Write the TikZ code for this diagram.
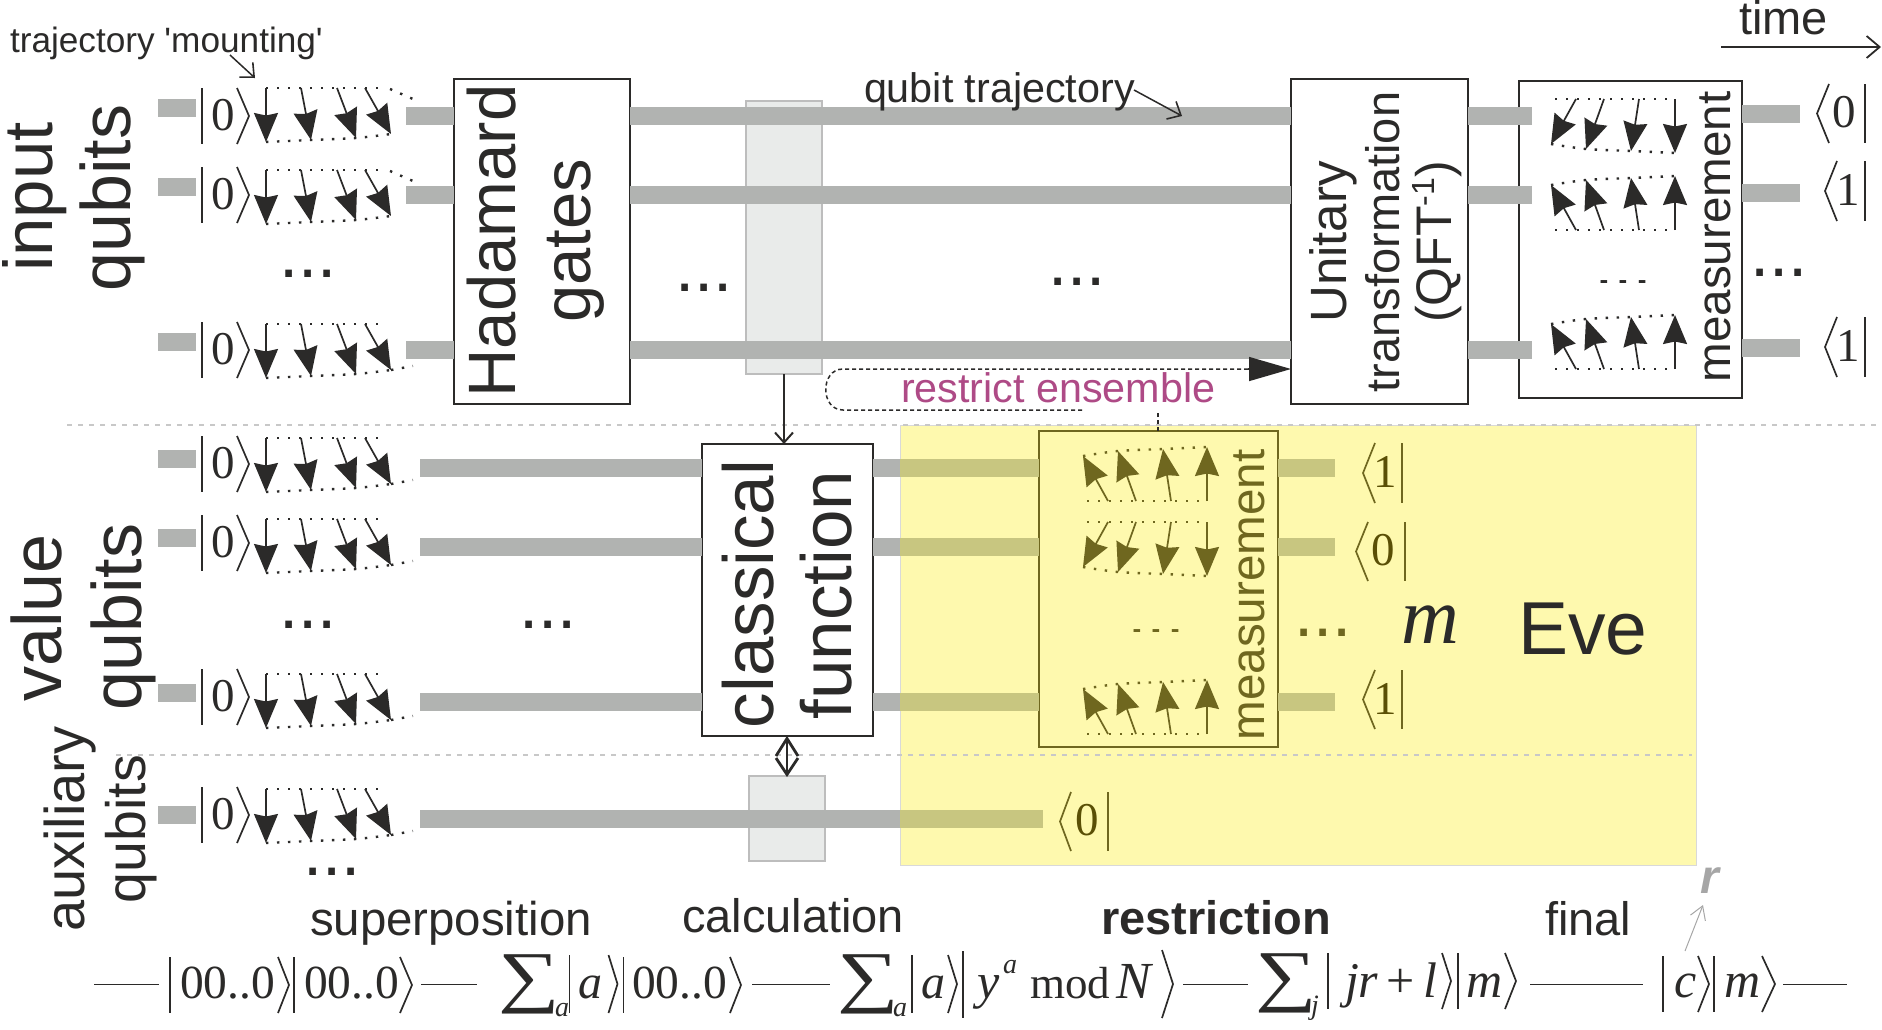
\documentclass[tikz,border=0pt]{standalone}
\usepackage{fontspec}
\setmainfont{Liberation Sans}
\newfontfamily\serf{Liberation Serif}
\newfontfamily\plainsans{Liberation Sans}
\usetikzlibrary{arrows.meta}
\definecolor{ink}{HTML}{2B2A29}
\definecolor{barg}{HTML}{B1B3B1}
\definecolor{barol}{HTML}{C8C680}
\definecolor{evey}{HTML}{FEF9AE}
\definecolor{olive}{HTML}{6F671F}
\definecolor{olivetxt}{HTML}{5A4F05}
\definecolor{rose}{HTML}{AE4A86}
\definecolor{palebox}{HTML}{E9EBEA}
\definecolor{paleedge}{HTML}{BDBDBD}
\definecolor{sepg}{HTML}{C8C8C8}
\newcommand\fs[1]{\fontsize{#1}{#1}\selectfont}
\tikzset{
  txt/.style={inner sep=0pt,outer sep=0pt,text=ink},
  vlab/.style={txt,rotate=90,anchor=base},
  hlab/.style={txt,anchor=base west},
  qbar/.style={line width=17.6pt,draw=barg},
  qbarol/.style={line width=17.6pt,draw=barol},
  gatebox/.style={draw=ink,line width=2pt,fill=white,inner sep=0pt,outer sep=0pt},
  palerect/.style={draw=paleedge,line width=2pt,fill=palebox,inner sep=0pt,outer sep=0pt},
  sepline/.style={draw=sepg,line width=1.6pt,dash pattern=on 5pt off 6pt},
  dotline/.style={line width=2.4pt,dash pattern=on 2.4pt off 8.6pt},
  spin/.style={line width=1.7pt,-{Stealth[length=29pt,width=24pt,inset=2.5pt]}},
  thinbar/.style={line width=1.7pt},
  openarrow/.style={line width=1.5pt,-{Straight Barb[length=11pt,width=20pt,line width=1.6pt]}},
  sumsign/.style={txt,anchor=base,font={\serf\fs{72}}},
  subsign/.style={hlab,font={\serf\itshape\fs{28}}},
  digit/.style={txt,anchor=base,font={\serf\fs{47}}},
  digitol/.style={digit,text=olivetxt},
  italsym/.style={hlab,font={\serf\itshape\fs{50}}},
  zeros/.style={hlab,font={\serf\fs{47.5}}}
}
% small helpers for the bra and ket brackets
\newcommand\vstroke[3]{\draw[thinbar] (#1,#2) -- (#1,#3);}
\newcommand\chev[4]{\draw[thinbar] (#1,#3) -- (#2,{(#3+#4)/2}) -- (#1,#4);}
% three heavy dots
\newcommand\dotsat[4]{\node[txt,anchor=base,text=#4,font={\fs{69}}] (#1) at (#2,#3) {...};}
\newcommand\lowdots[4]{\node[txt,anchor=base,text=#4,font={\fs{69}}] (#1) at (#2,#3) {\scalebox{1}[0.4]{...}};}
% qubit start: stub, |0> and the four mounted spins
\newcommand\startrow[6]{%
  \draw[qbar] (158,#2) -- (196,#2);
  \vstroke{202}{#3}{#3+56}
  \chev{237}{249}{#3}{#3+56}
  \node[digit] (zero#1) at (223,#3+42) {0};
  \begin{scope}[shift={(0,#4)}]
    \draw[spin] (266,0) -- (266,54);
    \draw[spin] (301,0) -- (311,52);
    \draw[spin] (337,0) -- (356,50);
    \draw[spin] (365,0) -- (391,46);
    \draw[dotline] (266,0) -- (386,0);
    \ifnum#5=1 \draw[dotline] (390,1) -- (413,11); \fi
    \draw[dotline] plot[smooth] coordinates {(266,54) (311,52) (356,50) (391,46)};
    \ifnum#6=1 \draw[dotline] (391,46) -- (413,42); \fi
  \end{scope}}
% measured spins: right x, tail y, direction (1 down, -1 up), colour
\newcommand\measrow[4]{%
  \begin{scope}[shift={(#1,#2)},yscale=#3,color=#4]
    \draw[spin] (-99,0) -- (-124,45);
    \draw[spin] (-71,0) -- (-89,50);
    \draw[spin] (-36,0) -- (-44,52);
    \draw[spin] (0,0) -- (0,54);
    \draw[dotline] (-120,0) -- (0,0);
    \draw[dotline] plot[smooth] coordinates {(-124,45) (-89,50) (-44,52) (0,54)};
  \end{scope}}
\begin{document}
\begin{tikzpicture}[x=1pt,y=-1pt,color=ink]
\useasboundingbox (0,0) rectangle (1882,1029);
% --- Eve's shaded area
\node[fill=evey,draw=sepg!70,line width=1pt,inner sep=0pt,outer sep=0pt,minimum width=796pt,minimum height=440pt] (eve) at (1298,645) {};
% --- row levels
\coordinate (rA) at (0,116);
\coordinate (rB) at (0,195);
\coordinate (rC) at (0,350);
\coordinate (vA) at (0,468);
\coordinate (vB) at (0,547);
\coordinate (vC) at (0,702);
\coordinate (aA) at (0,819);
% --- blocks
\node[gatebox,minimum width=176pt,minimum height=325pt] (hadamard) at (542,241.5) {};
\node[gatebox,minimum width=177pt,minimum height=325pt] (unitary) at (1379.5,241.5) {};
\node[gatebox,minimum width=223pt,minimum height=317pt] (measA) at (1630.5,239.5) {};
\node[gatebox,minimum width=171pt,minimum height=292pt] (classical) at (787,590) {};
\node[palerect,minimum width=76pt,minimum height=273pt] (calcA) at (784,237.5) {};
\node[palerect,minimum width=76pt,minimum height=85pt] (calcB) at (787,818.5) {};
\node[draw=olive,line width=2pt,inner sep=0pt,outer sep=0pt,minimum width=238.5pt,minimum height=316pt] (measB) at (1158.25,589) {};
% --- qubit trajectories
\foreach \r in {rA,rB,rC}{
  \draw[qbar] (406,0 |- \r) -- (hadamard.west |- \r);
  \draw[qbar] (hadamard.east |- \r) -- (unitary.west |- \r);
  \draw[qbar] (unitary.east |- \r) -- (1532,0 |- \r);
}
\foreach \r in {vA,vB,vC}{
  \draw[qbar] (420,0 |- \r) -- (classical.west |- \r);
  \draw[qbar] (classical.east |- \r) -- (eve.west |- \r);
  \draw[qbarol] (eve.west |- \r) -- (measB.west |- \r);
  \draw[qbarol] (measB.east |- \r) -- (1335,0 |- \r);
}
\draw[qbar] (420,0 |- aA) -- (eve.west |- aA);
\draw[qbarol] (eve.west |- aA) -- (1043,0 |- aA);
\foreach \y in {114,193,348}{ \draw[qbar] (measA.east |- 0,\y) -- (1800,\y); }
% --- separators
\draw[sepline] (67,425) -- (1877,425);
\draw[sepline] (116,755) -- (1692,755);
% --- qubit start rows
\startrow{a}{108}{88}{88}{1}{0}
\startrow{b}{187}{167}{170}{1}{0}
\startrow{c}{342}{322}{324}{0}{1}
\startrow{d}{459}{436}{438}{0}{1}
\startrow{e}{538}{515}{519}{0}{1}
\startrow{f}{693}{669}{674}{0}{1}
\startrow{g}{815}{787}{789}{0}{1}
% --- measured spins
\measrow{1675}{99}{1}{ink}
\measrow{1675}{230}{-1}{ink}
\measrow{1675}{369}{-1}{ink}
\measrow{1207}{501}{-1}{olive}
\measrow{1207}{522}{1}{olive}
\measrow{1207}{734}{-1}{olive}
% --- output bras, top right
\chev{1829}{1817}{84}{143}  \vstroke{1865}{84}{143}
\node[digit] (braA) at (1844,127) {0};
\chev{1837}{1825}{161}{221} \vstroke{1865}{161}{221}
\node[digit] (braB) at (1848,205) {1};
\chev{1837}{1825}{317}{377} \vstroke{1865}{317}{377}
\node[digit] (braC) at (1848,361) {1};
% --- output bras inside the shaded area
\begin{scope}[color=olive]
\chev{1375}{1363}{443}{503} \vstroke{1402}{443}{503}
\chev{1368}{1356}{522}{581} \vstroke{1405}{522}{581}
\chev{1375}{1363}{670}{729} \vstroke{1402}{670}{729}
\chev{1071}{1060}{792}{851} \vstroke{1108}{792}{851}
\end{scope}
\node[digitol] (braD) at (1385,487) {1};
\node[digitol] (braE) at (1383,565) {0};
\node[digitol] (braF) at (1385,714) {1};
\node[digitol] (braG) at (1087,835) {0};
% --- block captions
\node[vlab,font={\fs{67}}] (hadA) at (515,241) {Hadamard};
\node[vlab,font={\fs{67}}] (hadB) at (590,241) {gates};
\node[vlab,font={\fs{51}}] (uniA) at (1346,242) {Unitary};
\node[vlab,font={\fs{47}}] (uniB) at (1399,242) {transformation};
\node[vlab,font={\fs{50}}] (uniC) at (1451,242) {(QFT\raisebox{17pt}{\fs{32}-1})};
\node[vlab,font={\fs{47.6}}] (meaA) at (1730,237) {measurement};
\node[vlab,text=olive,font={\fs{47.6}}] (meaB) at (1264,595) {measurement};
\node[vlab,font={\fs{71}}] (claA) at (773,594) {classical};
\node[vlab,font={\fs{71}}] (claB) at (851,595) {function};
\node[vlab,font={\fs{69}}] (grpA) at (52,197) {input};
\node[vlab,font={\fs{70}}] (grpB) at (130,198) {qubits};
\node[vlab,font={\fs{70}}] (grpC) at (61,618) {value};
\node[vlab,font={\fs{70}}] (grpD) at (141,617) {qubits};
\node[vlab,font={\fs{56}}] (grpE) at (84,829) {auxiliary};
\node[vlab,font={\fs{55.5}}] (grpF) at (145,829) {qubits};
% --- dots
\dotsat{dotA}{308}{277}{ink}
\dotsat{dotB}{704}{291}{ink}
\dotsat{dotC}{1077}{285}{ink}
\lowdots{dotD}{1623}{283}{ink}
\dotsat{dotE}{1779}{276}{ink}
\dotsat{dotF}{308}{628}{ink}
\dotsat{dotG}{548}{628}{ink}
\dotsat{dotH}{332}{875}{ink}
\lowdots{dotI}{1156}{632}{olive}
\dotsat{dotJ}{1323}{636}{olive}
% --- annotations
\node[hlab,font={\plainsans\fs{35.2}}] (mount) at (10,52) {trajectory 'mounting'};
\coordinate (mountTail) at (230,55);
\coordinate (mountTip) at (255,78);
\draw[openarrow] (mountTail) -- (mountTip);
\node[hlab,font={\fs{41.3}}] (traj) at (864,102) {qubit trajectory};
\coordinate (trajTail) at (1134,90);
\coordinate (trajTip) at (1182,116);
\draw[openarrow] (trajTail) -- (trajTip);
\node[hlab,font={\fs{47}}] (timeL) at (1739,34) {time};
\coordinate (timeA) at (1721,47);
\coordinate (timeB) at (1881,47);
\draw[line width=1.6pt,-{Straight Barb[length=13pt,width=22pt,line width=1.8pt]}] (timeA) -- (timeB);
% --- restricted ensemble feedback
\node[hlab,text=rose,font={\fs{41.3}}] (restrict) at (901,402) {restrict ensemble};
\coordinate (fbA) at (1082,410);
\coordinate (fbB) at (843,410);
\coordinate (fbC) at (843,369);
\coordinate (fbD) at (1158,412);
\draw[line width=1.5pt,dash pattern=on 4pt off 3pt] (fbA) -- (fbB) .. controls (820,410) and (820,369) .. (fbC) -- (1250,369);
\draw[line width=1.5pt,-{Stealth[length=42pt,width=24pt,inset=0pt]}] (1248,369) -- (unitary.west |- 0,369);
\draw[line width=1.5pt,dash pattern=on 4pt off 3pt] (measB.north -| fbD) -- (fbD);
% --- links between blocks
\draw[line width=2pt,-{Straight Barb[length=10pt,width=18pt,line width=2pt]}] (calcA.south) -- (classical.north -| calcA);
\coordinate (duoA) at (classical.south);
\coordinate (duoB) at (calcB.north);
\draw[line width=2pt] (duoA) -- (duoB);
\draw[line width=2.8pt] (776,756) -- (787,738.5) -- (798,756);
\draw[line width=2.8pt] (776,758) -- (787,774.5) -- (798,758);
% --- stages
\node[hlab,font={\fs{47.4}}] (stA) at (310,935) {superposition};
\node[hlab,font={\fs{47}}] (stB) at (682,932) {calculation};
\node[hlab,font={\bfseries\fs{47}}] (stC) at (1101,934) {restriction};
\node[hlab,font={\fs{47}}] (stD) at (1545,935) {final};
\node[hlab,text=black!35,font={\bfseries\itshape\fs{48}}] (stE) at (1700,893) {r};
\coordinate (rTail) at (1685,951);
\coordinate (rTip) at (1703,905);
\draw[draw=black!35,line width=1pt,-{Straight Barb[length=13pt,width=16pt,line width=1pt]}] (rTail) -- (rTip);
% --- state formula
\foreach \a/\b in {94/159,421/477,752/830,1183/1248,1530/1643,1783/1847}{
  \draw[line width=1.7pt] (\a,984.5) -- (\b,984.5);
}
\vstroke{170}{957}{1013} \chev{278}{289}{957}{1013}
\node[zeros] (fa) at (180,998) {00..0};
\vstroke{294}{957}{1013} \chev{400}{412}{957}{1013}
\node[zeros] (fb) at (304,998) {00..0};
\node[sumsign] (sumA) at (529,999) {\scalebox{1.2}[0.95]{∑}};
\node[subsign] (subA) at (555,1016) {a};
\vstroke{569.5}{955}{1013} \chev{608.5}{617.5}{955}{1013}
\node[txt,anchor=base,font={\serf\itshape\fs{48}}] (fc) at (590,998) {a};
\vstroke{623.5}{957}{1013} \chev{730}{741}{957}{1013}
\node[zeros] (fd) at (632,998) {00..0};
\node[sumsign] (sumB) at (868,999) {\scalebox{1.2}[0.95]{∑}};
\node[subsign] (subB) at (893,1016) {a};
\vstroke{912}{955}{1013} \chev{948}{957}{955}{1013}
\node[txt,anchor=base,font={\serf\itshape\fs{48}}] (fe) at (933,998) {a};
\vstroke{963}{951}{1018} \chev{1162}{1173}{950}{1018}
\node[italsym] (ff) at (977,998) {y};
\node[hlab,font={\serf\itshape\fs{28}}] (fg) at (1003,973) {a};
\node[hlab,font={\serf\fs{45}}] (fh) at (1030,998) {mod};
\node[hlab,font={\serf\itshape\fs{52}}] (fn) at (1116,998) {N};
\node[sumsign] (sumC) at (1286,998) {\scalebox{1.2}[0.95]{∑}};
\node[subsign] (subC) at (1311,1014) {j};
\vstroke{1328}{953}{1009} \chev{1442}{1451}{953}{1009}
\node[hlab,font={\serf\fs{50}}] (fi) at (1345,997) {{\itshape jr}\,+\,{\itshape l}};
\vstroke{1458}{953}{1009} \chev{1505}{1516}{953}{1009}
\node[italsym] (fj) at (1466,997) {m};
\vstroke{1663}{956}{1012} \chev{1698}{1709}{956}{1012}
\node[italsym] (fk) at (1674,997) {c};
\vstroke{1714}{956}{1012} \chev{1762}{1775}{956}{1012}
\node[italsym] (fl) at (1724,997) {m};
% --- large labels in the shaded area
\node[hlab,font={\serf\itshape\fs{80}}] (mm) at (1401,643) {m};
\node[hlab,font={\fs{75}}] (evet) at (1518,654) {Eve};
\end{tikzpicture}
\end{document}
